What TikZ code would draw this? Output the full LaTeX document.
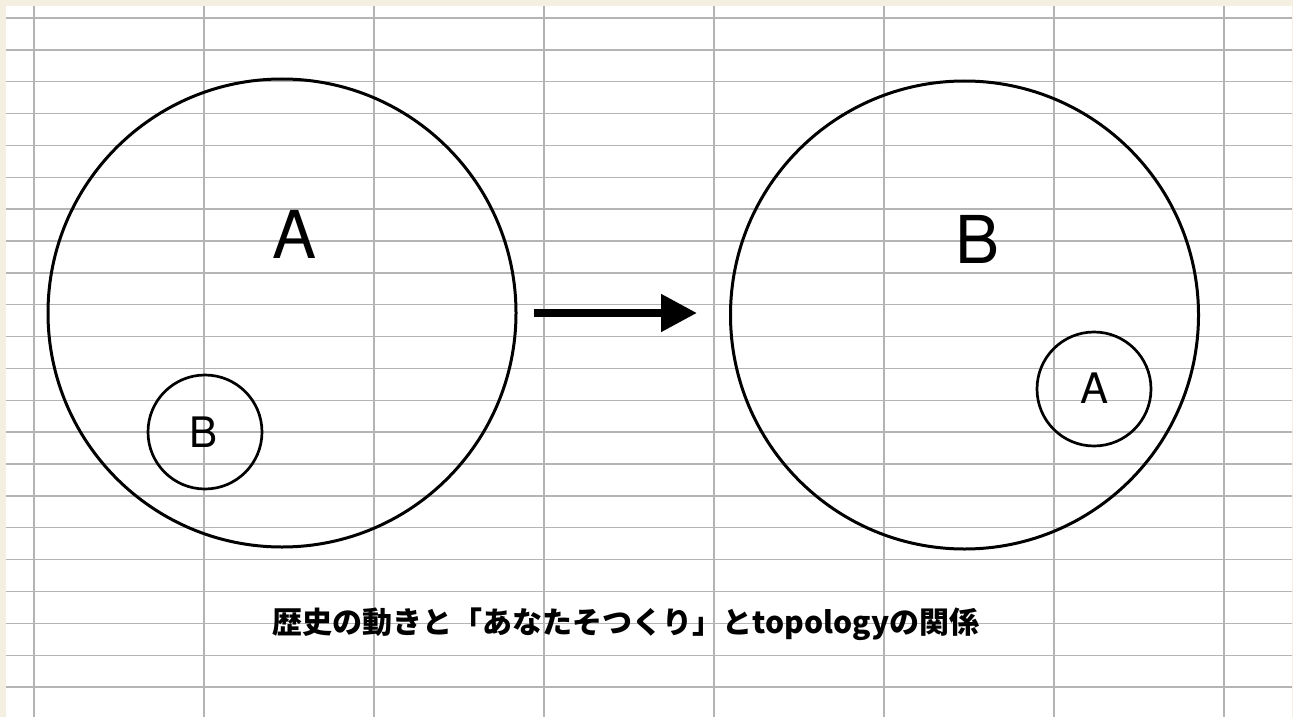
\documentclass[tikz,border=0pt]{standalone}
\usepackage{fontspec}
\setmainfont{TeX Gyre Heros}
\newfontfamily\cjk{Noto Sans CJK JP}
\usetikzlibrary{arrows.meta}
\definecolor{beige}{HTML}{F5EFE1}
\definecolor{gridgray}{HTML}{B4B4B4}
\tikzset{
  bigcirc/.style={circle, draw=black, line width=3pt, minimum size=468pt, inner sep=0pt},
  smallcirc/.style={circle, draw=black, line width=2.7pt, minimum size=114pt, inner sep=0pt},
  biglabel/.style={inner sep=0pt, font=\fontsize{66}{66}\selectfont},
  smalllabel/.style={inner sep=0pt, font=\fontsize{42}{42}\selectfont},
  gridline/.style={draw=gridgray, line width=1.4pt},
  bigarrow/.style={line width=8pt, -{Triangle[length=36pt,width=36pt]}},
  caption/.style={inner sep=0pt, font=\cjk\bfseries\fontsize{30}{30}\selectfont}
}
\begin{document}
\begin{tikzpicture}[x=1pt,y=-1pt]
\useasboundingbox (0,0) rectangle (1293,717);
\fill[beige] (0,0) rectangle (1293,717);
\fill[white] (6,6) rectangle (1292,717);
% grid
\foreach \i in {0,...,21} {
  \draw[gridline] (6,18+31.86*\i) -- (1292,18+31.86*\i);
}
\foreach \i in {0,...,7} {
  \draw[gridline] (34+170*\i,6) -- (34+170*\i,717);
}
% left
\node[bigcirc] (L) at (282,313) {};
\node[biglabel] (LA) at (294.5,234) {A};
\node[smallcirc] (LB) at (205,432) {};
\node[smalllabel] (LBt) at (204,432) {B};
% right
\node[bigcirc] (R) at (964.5,315) {};
\node[biglabel] (RB) at (977.5,239) {B};
\node[smallcirc] (RA) at (1094,389) {};
\node[smalllabel] (RAt) at (1094,388) {A};
% arrow
\coordinate (as) at (534,313);
\coordinate (ae) at (697,313);
\draw[bigarrow] (as) -- (ae);
% caption
\node[caption] (cap) at (626,624) {歴史の動きと「あなたそつくり」とtopologyの関係};
\end{tikzpicture}
\end{document}
